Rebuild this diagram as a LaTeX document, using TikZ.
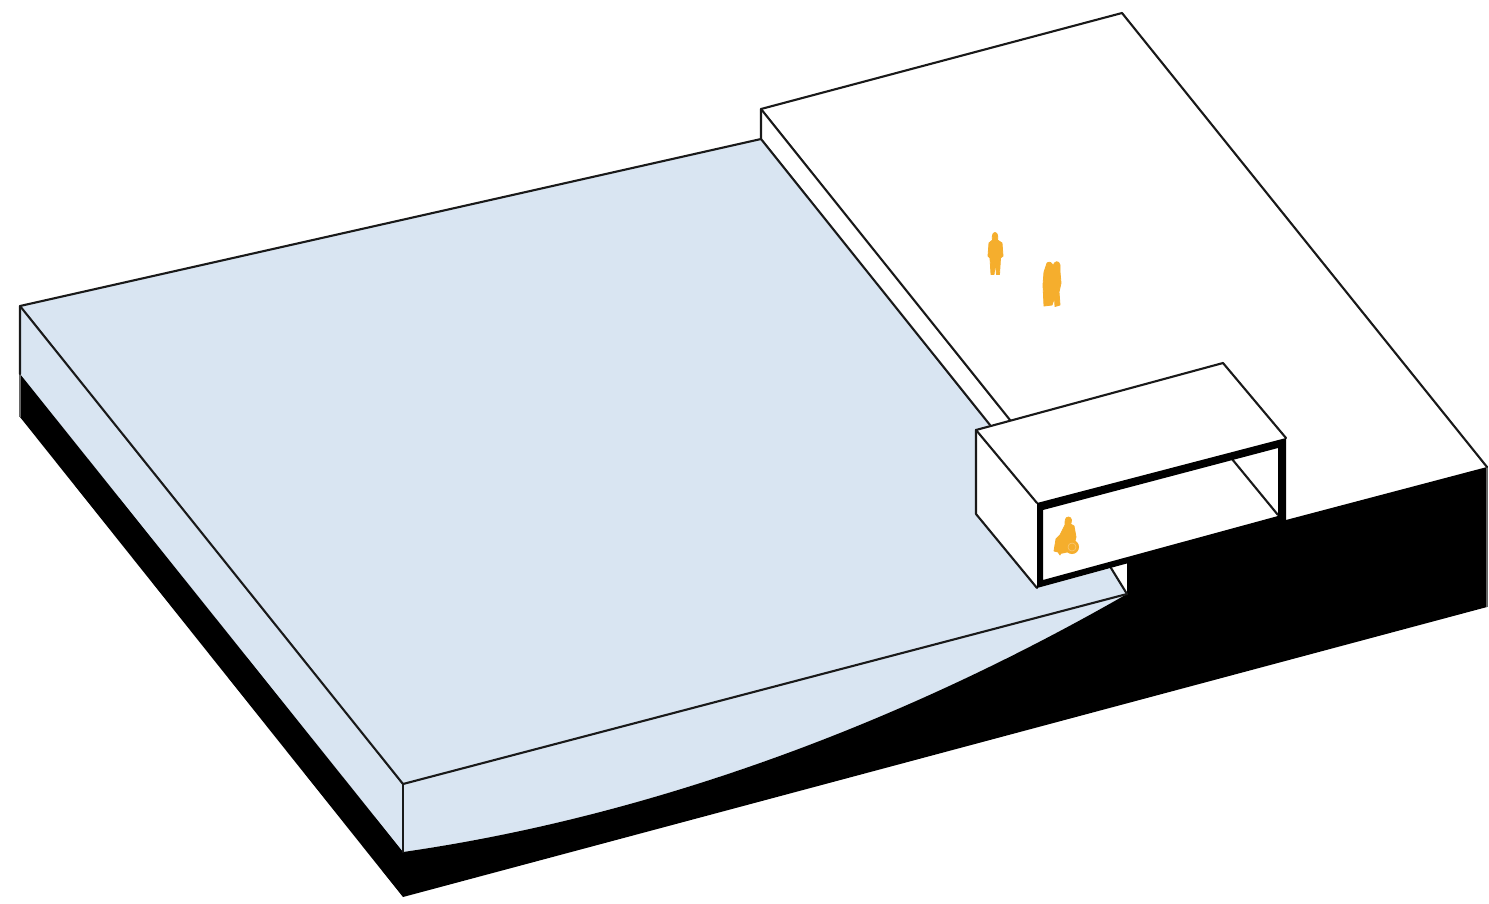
\documentclass[tikz,border=0pt]{standalone}
\definecolor{slab}{HTML}{D9E5F2}
\definecolor{figure}{HTML}{F5AE2D}
\tikzset{
  edge/.style={draw=black!90,line width=2.1pt,line join=round,line cap=round},
  thinedge/.style={draw=black!60,line width=1.2pt},
  person/.style={fill=figure,draw=figure,line width=.8pt,line join=round}
}
\begin{document}
\begin{tikzpicture}[x=1pt,y=-1pt]
\useasboundingbox (0,0) rectangle (1489,903);
\fill[white] (0,0) rectangle (1489,903);
% named corners
\coordinate (A) at (20,306);
\coordinate (Ab) at (20,374);
\coordinate (Ac) at (20,417);
\coordinate (B) at (403,784);
\coordinate (Bb) at (403,852);
\coordinate (Bc) at (403,897);
\coordinate (C) at (1127,594);
\coordinate (Cn) at (1127,564);
\coordinate (D) at (761,139);
\coordinate (D2) at (990,425);
\coordinate (E) at (761,109);
\coordinate (E2) at (1010,420);
\coordinate (F) at (1122,13);
\coordinate (G) at (1487,467);
\coordinate (H) at (1487,607);
% box corners
\coordinate (a) at (976,430);
\coordinate (b) at (1223,363);
\coordinate (c) at (1286,438);
\coordinate (d) at (1037,503);
\coordinate (e) at (976,514);
\coordinate (f) at (1037,588);
\coordinate (g) at (1286,520);
\coordinate (n) at (1111,568);
% faces
\fill[slab] (A) -- (D) -- (D2) -- (a) -- (e) -- (f) -- (n) -- (C) .. controls (890,730) and (640,818) .. (Bb) -- (Ab) -- cycle;
\fill[black] (Ab) -- (Bb) .. controls (640,818) and (890,730) .. (C) -- (Cn) -- (1127,560) -- (1282,518) -- (g) -- (G) -- (H) -- (Bc) -- (Ac) -- cycle;
% outlines
\draw[thinedge] (Ab) -- (Ac);
\draw[thinedge] (G) -- (H);
\draw[edge] (Ab) -- (A) -- (D) -- (E) -- (F) -- (G);
\draw[edge] (A) -- (B) -- (C);
\draw[edge] (B) -- (Bb);
\draw[edge] (D) -- (D2);
\draw[edge] (E) -- (E2);
\draw[edge] (n) -- (C);
% box
\fill[white] (a) -- (b) -- (c) -- (1282,518) -- (1040,585) -- (f) -- (e) -- cycle;
\draw[edge] (1232,459) -- (1278,515);
\draw[edge] (d) -- (a) -- (b) -- (c);
\draw[edge] (a) -- (e) -- (f);
\fill[black,even odd rule] (d) -- (c) -- (g) -- (f) -- cycle
  (1043,510) -- (1278,448) -- (1278,516) -- (1043,580) -- cycle;
% figures
\path[person] (995,232.5) .. controls (998,232.5) and (998,238) .. (997.5,240)
  -- (1002,243) -- (1003,256) -- (1000.5,258) -- (999.5,274.5) -- (996.5,274.5) -- (995.5,263) -- (994,274.5) -- (991,274.5) -- (990,258) -- (988,256) -- (989,243) -- (992.5,240)
  .. controls (992,238) and (992,232.5) .. (995,232.5) -- cycle;
\path[person] (1047,263) .. controls (1050,261) and (1052,263) .. (1053,266)
  .. controls (1054,261) and (1059,260) .. (1060,265)
  -- (1060,272) -- (1061,283) -- (1059,292) -- (1060,305) -- (1055,306.5) -- (1054.5,298) -- (1052,305) -- (1044,306) -- (1043,285) -- (1044,272) -- cycle;
\path[person] (1068.5,517) .. controls (1072,517) and (1072,522) .. (1070.5,524)
  -- (1074,526) -- (1076,537) -- (1075,541) -- (1066,541) -- (1062,550) -- (1060,555) -- (1058,552) -- (1054,551)
  -- (1056,539) -- (1060,535) -- (1065,525) .. controls (1065,521) and (1065,517) .. (1068.5,517) -- cycle;
\fill[figure] (1072,547) circle (7);
\fill[figure] (1060,540) -- (1071,540) -- (1069,552) -- (1060,554) -- cycle;
\draw[white!35!figure,line width=.6pt] (1072,547) circle (4);
\end{tikzpicture}
\end{document}
